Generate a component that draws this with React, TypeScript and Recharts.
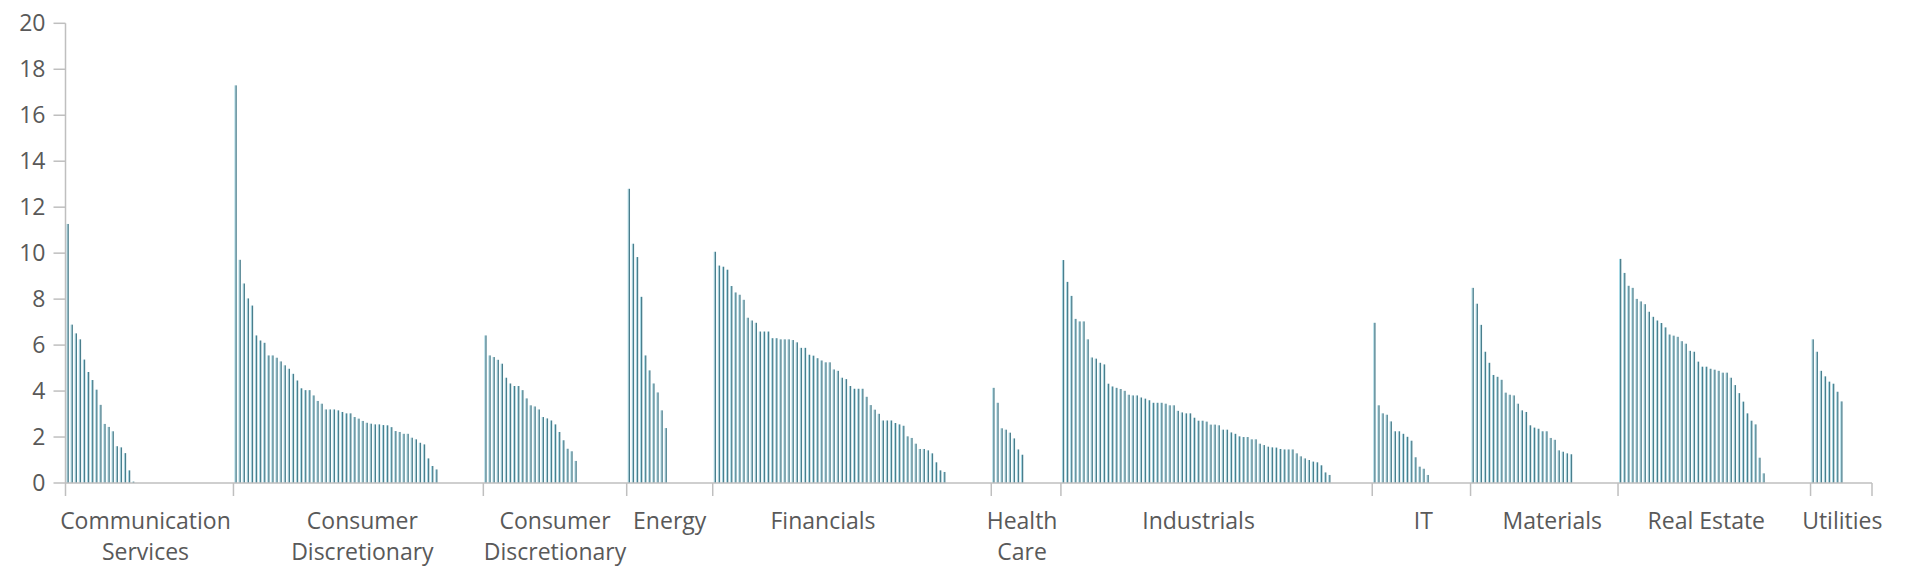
import React from "react";
import { BarChart, Bar, XAxis, YAxis } from "recharts";

// sector names as they appear on the axis (Excel wraps the long ones)
const sectorLabels: string[][] = [
  ["Communication", "Services"],
  ["Consumer", "Discretionary"],
  ["Consumer", "Discretionary"],
  ["Energy"],
  ["Financials"],
  ["Health", "Care"],
  ["Industrials"],
  ["IT"],
  ["Materials"],
  ["Real Estate"],
  ["Utilities"],
];

// rows per sector on the category axis (the trailing rows have no value)
const sectorRows = [41, 61, 35, 21, 68, 17, 76, 24, 36, 47, 15];

const communication = [11.27, 6.89, 6.51, 6.25, 5.37, 4.83, 4.48, 4.06, 3.4, 2.57, 2.44, 2.25, 1.6, 1.55, 1.3, 0.55, 0.06];
const consumerDisc = [
  17.3, 9.71, 8.68, 8.03, 7.72, 6.42, 6.2, 6.1, 5.55, 5.55, 5.45, 5.29, 5.12, 4.97, 4.75, 4.46, 4.12, 4.04, 4.04, 3.81,
  3.57, 3.45, 3.2, 3.2, 3.2, 3.16, 3.09, 3.03, 3.03, 2.87, 2.8, 2.7, 2.62, 2.58, 2.55, 2.55, 2.52, 2.51, 2.43, 2.26,
  2.22, 2.14, 2.14, 1.97, 1.9, 1.75, 1.68, 1.07, 0.74, 0.59,
];
const consumerDisc2 = [6.42, 5.55, 5.48, 5.36, 5.19, 4.58, 4.33, 4.22, 4.22, 4.04, 3.68, 3.38, 3.33, 3.2, 2.87, 2.81, 2.72, 2.55, 2.22, 1.86, 1.49, 1.38, 0.96];
const energy = [12.8, 10.41, 9.83, 8.1, 5.55, 4.9, 4.33, 3.94, 3.16, 2.39];
const financials = [
  10.06, 9.46, 9.41, 9.28, 8.57, 8.29, 8.19, 7.97, 7.19, 7.07, 6.97, 6.59, 6.59, 6.59, 6.3, 6.3, 6.25, 6.25, 6.25, 6.22,
  6.12, 5.88, 5.88, 5.58, 5.54, 5.43, 5.33, 5.25, 5.25, 4.94, 4.88, 4.58, 4.52, 4.22, 4.1, 4.1, 4.1, 3.75, 3.39, 3.19,
  3.01, 2.72, 2.72, 2.72, 2.61, 2.55, 2.49, 2.03, 1.96, 1.71, 1.48, 1.48, 1.42, 1.29, 0.9, 0.55, 0.48,
];
const healthCare = [4.14, 3.49, 2.38, 2.32, 2.19, 1.94, 1.46, 1.23];
const industrials = [
  9.7, 8.75, 8.14, 7.14, 7.03, 7.03, 6.25, 5.46, 5.41, 5.23, 5.16, 4.32, 4.2, 4.14, 4.09, 4.01, 3.84, 3.81, 3.81, 3.72,
  3.67, 3.6, 3.49, 3.49, 3.49, 3.45, 3.38, 3.38, 3.14, 3.07, 3.03, 3.03, 2.84, 2.71, 2.71, 2.67, 2.54, 2.54, 2.51, 2.32,
  2.32, 2.2, 2.14, 2.03, 2.0, 2.0, 1.9, 1.9, 1.71, 1.65, 1.58, 1.55, 1.54, 1.48, 1.46, 1.46, 1.46, 1.29, 1.16, 1.07,
  1.0, 0.93, 0.9, 0.77, 0.46, 0.35,
];
const infoTech = [6.97, 3.38, 3.03, 2.97, 2.68, 2.25, 2.25, 2.14, 2.01, 1.84, 1.12, 0.71, 0.62, 0.35];
const materials = [
  8.49, 7.8, 6.88, 5.71, 5.23, 4.7, 4.62, 4.49, 3.93, 3.84, 3.81, 3.45, 3.16, 3.09, 2.51, 2.41, 2.36, 2.25, 2.25, 1.96,
  1.88, 1.42, 1.36, 1.29, 1.25,
];
const realEstate = [
  9.75, 9.14, 8.58, 8.49, 8.01, 7.9, 7.78, 7.45, 7.23, 7.07, 6.96, 6.77, 6.46, 6.41, 6.36, 6.17, 6.06, 5.75, 5.71, 5.28,
  5.06, 5.06, 4.97, 4.93, 4.88, 4.8, 4.8, 4.58, 4.26, 3.91, 3.54, 3.03, 2.71, 2.55, 1.1, 0.42,
];
const utilities = [6.25, 5.71, 4.88, 4.64, 4.41, 4.32, 3.97, 3.55];

const yTicks = [0, 2, 4, 6, 8, 10, 12, 14, 16, 18, 20];

const sectorValues = [
  communication, consumerDisc, consumerDisc2, energy, financials, healthCare,
  industrials, infoTech, materials, realEstate, utilities,
];

const WIDTH = 1890;
const HEIGHT = 572;
const Y_AXIS_W = 57.5;
const RIGHT = 26;
const TEXT = "#595959";
const AXIS = "#bfbfbf";
const FONT = "'Open Sans', sans-serif";
const LABEL_SIZE = 23;
// Excel doesn't quite centre every group label; nudge to match
const labelNudge = [-4, 4, 0, 0, -29, -4, -18, 2, 8, -8, 1];

const totalRows = sectorRows.reduce((a, b) => a + b, 0);
const rowWidth = (WIDTH - Y_AXIS_W - RIGHT) / totalRows;

const groupStarts: number[] = [];
const data: { slot: number; value: number | null }[] = [];
sectorValues.forEach((vals, s) => {
  groupStarts.push(data.length);
  for (let i = 0; i < sectorRows[s]; i++) {
    data.push({ slot: data.length, value: i < vals.length ? vals[i] : null });
  }
});

function SectorTick(props: any) {
  const { x, y, payload } = props;
  const idx = payload.value;
  const s = groupStarts.indexOf(idx);
  const last = idx === totalRows - 1;
  if (s < 0 && !last) return null;
  const left = x - rowWidth / 2;
  const endTick = last ? (
    <line x1={x + rowWidth / 2} x2={x + rowWidth / 2} y1={y} y2={y + 13} stroke={AXIS} strokeWidth={1.5} />
  ) : null;
  if (s < 0) return endTick;
  const cx = left + (sectorRows[s] * rowWidth) / 2 + labelNudge[s];
  return (
    <g>
      <line x1={left} x2={left} y1={y} y2={y + 13} stroke={AXIS} strokeWidth={1.5} />
      {sectorLabels[s].map((t, i) => (
        <text key={i} x={cx} y={y + 46 + i * 30.5} textAnchor="middle" fill={TEXT} fontSize={LABEL_SIZE} fontFamily={FONT}>
          {t}
        </text>
      ))}
      {endTick}
    </g>
  );
}

function StripeBar(props: any) {
  const { x, y, height } = props;
  if (height == null || !(height > 0)) return null;
  return (
    <g>
      <rect x={x} y={y} width={1} height={height} fill="#a9dbe7" />
      <rect x={x + 1} y={y} width={1.3} height={height} fill="#4a7e8c" />
    </g>
  );
}

export default function App() {
  return (
    <div style={{ fontFamily: FONT, marginTop: -8 }}>
      <BarChart
        width={WIDTH}
        height={HEIGHT}
        data={data}
        margin={{ top: 23.3, right: RIGHT, bottom: 0, left: 0 }}
        barCategoryGap={0}
      >
        <XAxis
          dataKey="slot"
          type="category"
          interval={0}
          height={89}
          tickLine={false}
          tickSize={0}
          tickMargin={0}
          axisLine={{ stroke: AXIS, strokeWidth: 1.5 }}
          tick={<SectorTick />}
        />
        <YAxis
          width={Y_AXIS_W}
          domain={[0, 20]}
          ticks={yTicks}
          interval={0}
          tickSize={12}
          tickMargin={8}
          axisLine={{ stroke: AXIS, strokeWidth: 1.5 }}
          tickLine={{ stroke: AXIS, strokeWidth: 1.5 }}
          tick={{ fill: TEXT, fontSize: LABEL_SIZE, fontFamily: FONT }}
        />
        <Bar dataKey="value" barSize={2} shape={<StripeBar />} isAnimationActive={false} />
      </BarChart>
    </div>
  );
}
